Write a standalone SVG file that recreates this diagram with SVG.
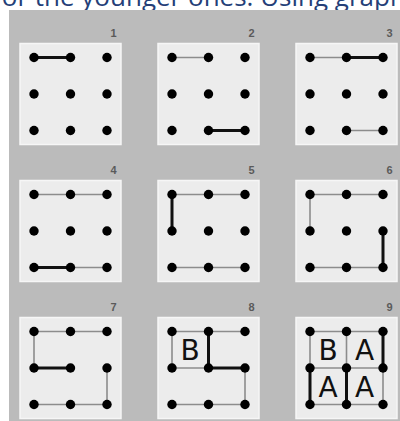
<svg xmlns="http://www.w3.org/2000/svg" xmlns:xlink="http://www.w3.org/1999/xlink" width="400" height="421" viewBox="0 0 400 421">
<style>
.bg{fill:#bbbbbb}
.panel{fill:#ececec;stroke:#f6f6f6;stroke-width:1.5}
.num{font-family:"Liberation Sans",Arial,sans-serif;font-size:11px;font-weight:bold;fill:#5a5a5a;text-anchor:middle}
.thin{stroke:#8c8c8c;stroke-width:1.6;fill:none}
.thick{stroke:#111;stroke-width:3;fill:none}
.dot{fill:#000}
.let{font-family:"DejaVu Sans","Liberation Sans",sans-serif;font-size:28px;fill:#111;text-anchor:middle}
.top{font-family:"Open Sans","DejaVu Sans",sans-serif;font-size:26px;fill:#253f78}
</style>
<defs>
<g id="dots">
<circle class="dot" cx="14" cy="14" r="4.7"/><circle class="dot" cx="50.5" cy="14" r="4.7"/><circle class="dot" cx="87" cy="14" r="4.7"/>
<circle class="dot" cx="14" cy="50.5" r="4.7"/><circle class="dot" cx="50.5" cy="50.5" r="4.7"/><circle class="dot" cx="87" cy="50.5" r="4.7"/>
<circle class="dot" cx="14" cy="87" r="4.7"/><circle class="dot" cx="50.5" cy="87" r="4.7"/><circle class="dot" cx="87" cy="87" r="4.7"/>
</g>
</defs>
<text class="top" x="-7" y="6">for the younger ones. Using graph</text>
<rect class="bg" x="9" y="10" width="391" height="411"/>

<g id="p1" transform="translate(20,43.5)">
<rect class="panel" x="0" y="0" width="101" height="101"/>
<text class="num" x="93.5" y="-6.5">1</text>
<g class="connectors"><line class="thick" x1="14" y1="14" x2="50.5" y2="14"/></g>
<use xlink:href="#dots"/>
</g>

<g id="p2" transform="translate(158,43.5)">
<rect class="panel" x="0" y="0" width="101" height="101"/>
<text class="num" x="93.5" y="-6.5">2</text>
<g class="connectors">
<line class="thin" x1="14" y1="14" x2="50.5" y2="14"/>
<line class="thick" x1="50.5" y1="87" x2="87" y2="87"/>
</g>
<use xlink:href="#dots"/>
</g>

<g id="p3" transform="translate(296,43.5)">
<rect class="panel" x="0" y="0" width="101" height="101"/>
<text class="num" x="93.5" y="-6.5">3</text>
<g class="connectors">
<line class="thin" x1="14" y1="14" x2="50.5" y2="14"/>
<line class="thick" x1="50.5" y1="14" x2="87" y2="14"/>
<line class="thin" x1="50.5" y1="87" x2="87" y2="87"/>
</g>
<use xlink:href="#dots"/>
</g>

<g id="p4" transform="translate(20,180.5)">
<rect class="panel" x="0" y="0" width="101" height="101"/>
<text class="num" x="93.5" y="-6.5">4</text>
<g class="connectors">
<line class="thin" x1="14" y1="14" x2="87" y2="14"/>
<line class="thick" x1="14" y1="87" x2="50.5" y2="87"/>
<line class="thin" x1="50.5" y1="87" x2="87" y2="87"/>
</g>
<use xlink:href="#dots"/>
</g>

<g id="p5" transform="translate(158,180.5)">
<rect class="panel" x="0" y="0" width="101" height="101"/>
<text class="num" x="93.5" y="-6.5">5</text>
<g class="connectors">
<line class="thin" x1="14" y1="14" x2="87" y2="14"/>
<line class="thick" x1="14" y1="14" x2="14" y2="50.5"/>
<line class="thin" x1="14" y1="87" x2="87" y2="87"/>
</g>
<use xlink:href="#dots"/>
</g>

<g id="p6" transform="translate(296,180.5)">
<rect class="panel" x="0" y="0" width="101" height="101"/>
<text class="num" x="93.5" y="-6.5">6</text>
<g class="connectors">
<line class="thin" x1="14" y1="14" x2="87" y2="14"/>
<line class="thin" x1="14" y1="14" x2="14" y2="50.5"/>
<line class="thin" x1="14" y1="87" x2="87" y2="87"/>
<line class="thick" x1="87" y1="50.5" x2="87" y2="87"/>
</g>
<use xlink:href="#dots"/>
</g>

<g id="p7" transform="translate(20,317.5)">
<rect class="panel" x="0" y="0" width="101" height="101"/>
<text class="num" x="93.5" y="-6.5">7</text>
<g class="connectors">
<line class="thin" x1="14" y1="14" x2="87" y2="14"/>
<line class="thin" x1="14" y1="14" x2="14" y2="50.5"/>
<line class="thick" x1="14" y1="50.5" x2="50.5" y2="50.5"/>
<line class="thin" x1="87" y1="50.5" x2="87" y2="87"/>
<line class="thin" x1="14" y1="87" x2="87" y2="87"/>
</g>
<use xlink:href="#dots"/>
</g>

<g id="p8" transform="translate(158,317.5)">
<rect class="panel" x="0" y="0" width="101" height="101"/>
<text class="num" x="93.5" y="-6.5">8</text>
<g class="connectors">
<line class="thin" x1="14" y1="14" x2="87" y2="14"/>
<line class="thin" x1="14" y1="14" x2="14" y2="50.5"/>
<line class="thin" x1="14" y1="50.5" x2="50.5" y2="50.5"/>
<line class="thick" x1="50.5" y1="14" x2="50.5" y2="50.5"/>
<line class="thick" x1="50.5" y1="50.5" x2="87" y2="50.5"/>
<line class="thin" x1="87" y1="50.5" x2="87" y2="87"/>
<line class="thin" x1="14" y1="87" x2="87" y2="87"/>
</g>
<use xlink:href="#dots"/>
<text class="let" x="32.2" y="42.5">B</text>
</g>

<g id="p9" transform="translate(296,317.5)">
<rect class="panel" x="0" y="0" width="101" height="101"/>
<text class="num" x="93.5" y="-6.5">9</text>
<g class="connectors">
<line class="thin" x1="14" y1="14" x2="87" y2="14"/>
<line class="thin" x1="14" y1="14" x2="14" y2="50.5"/>
<line class="thin" x1="50.5" y1="14" x2="50.5" y2="50.5"/>
<line class="thick" x1="87" y1="14" x2="87" y2="50.5"/>
<line class="thin" x1="14" y1="50.5" x2="87" y2="50.5"/>
<line class="thick" x1="14" y1="50.5" x2="14" y2="87"/>
<line class="thick" x1="50.5" y1="50.5" x2="50.5" y2="87"/>
<line class="thin" x1="87" y1="50.5" x2="87" y2="87"/>
<line class="thin" x1="14" y1="87" x2="87" y2="87"/>
</g>
<use xlink:href="#dots"/>
<text class="let" x="32.2" y="42.5">B</text>
<text class="let" x="68.7" y="42.5">A</text>
<text class="let" x="32.2" y="79">A</text>
<text class="let" x="68.7" y="79">A</text>
</g>
</svg>
